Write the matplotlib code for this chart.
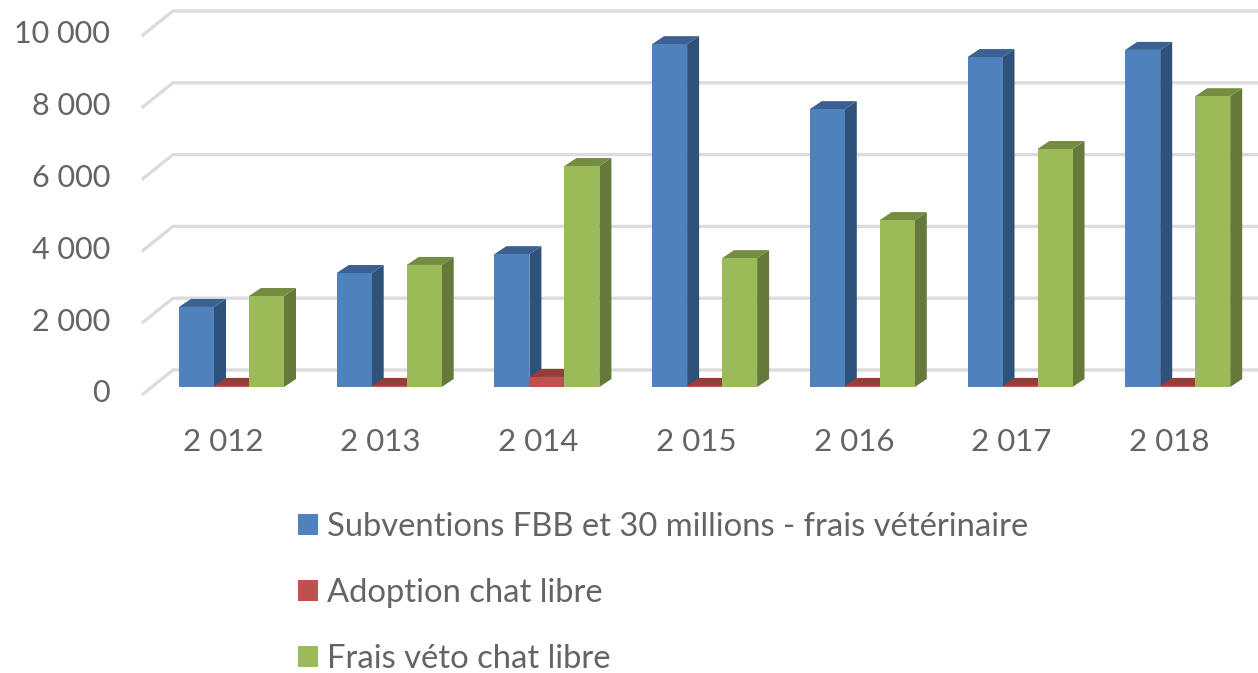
import matplotlib
matplotlib.use("Agg")
import matplotlib.pyplot as plt
from matplotlib.patches import Polygon, Rectangle, Patch

plt.rcParams['font.family'] = ['Lato', 'DejaVu Sans']

years = ['2 012', '2 013', '2 014', '2 015', '2 016', '2 017', '2 018']
ticks = [0, 2000, 4000, 6000, 8000, 10000]
tick_labels = ['0', '2 000', '4 000', '6 000', '8 000', '10 000']
subventions = [2230, 3175, 3700, 9550, 7740, 9190, 9390]
adoption = [30, 30, 280, 30, 30, 30, 30]
frais = [2535, 3400, 6155, 3590, 4650, 6630, 8100]
names = ['Subventions FBB et 30 millions - frais vétérinaire', 'Adoption chat libre', 'Frais véto chat libre']
front = ['#4F81BD', '#C0504D', '#9BBB59']
side = ['#2F527A', '#8A3835', '#657A3A']
top = ['#3A6191', '#963D3A', '#748D43']
TEXT = '#646464'

W, H = 1258, 673
PX_X = 157.7      # pixels per category
PX_Y = 0.0359     # pixels per unit
X0, Y0 = 231.5, 387.0

fig = plt.figure(figsize=(W / 100, H / 100), dpi=100, facecolor='white')
ax = fig.add_axes([0, 0, 1, 1])
ax.set_xlim(-X0 / PX_X, (W - X0) / PX_X)
ax.set_ylim((Y0 - H) / PX_Y, Y0 / PX_Y)
ax.axis('off')

bw = 35 / PX_X
dx = 12 / PX_X
dy = 8 / PX_Y

# walls / gridlines
xa, xk, xe = (143 - X0) / PX_X, (173 - X0) / PX_X, (W - X0) / PX_X
ya, yk = -7 / PX_Y, 17 / PX_Y
for t, lab in zip(ticks, tick_labels):
    ax.plot([xa, xk, xe], [t + ya, t + yk, t + yk], color='#DCDCDC', lw=2.4,
            solid_joinstyle='miter', zorder=1)
    ax.text((110 - X0) / PX_X, t - 6.5 / PX_Y, lab, ha='right', va='center',
            fontsize=22, color=TEXT, zorder=5)

# bars
for s, vals in enumerate([subventions, adoption, frais]):
    for i, v in enumerate(vals):
        x0 = i - 1.5 * bw + s * bw
        x1 = x0 + bw
        z = 2 + i + s * 0.1
        ax.add_patch(Polygon([(x1, 0), (x1 + dx, dy), (x1 + dx, v + dy), (x1, v)],
                             closed=True, fc=side[s], ec='none', zorder=z))
        ax.add_patch(Polygon([(x0, v), (x0 + dx, v + dy), (x1 + dx, v + dy), (x1, v)],
                             closed=True, fc=top[s], ec='none', zorder=z))
        ax.add_patch(Rectangle((x0, 0), bw, v, fc=front[s], ec='none', zorder=z + 0.01))

for i, y in enumerate(years):
    ax.text(i - 8.5 / PX_X, -55 / PX_Y, y, ha='center', va='center', fontsize=22.5, color=TEXT)

handles = [Patch(fc=c, ec='none') for c in front]
leg = ax.legend(handles, names, loc='upper left',
                bbox_to_anchor=(298 / W, 1 - 512 / H), frameon=False,
                fontsize=23.6, labelcolor=TEXT, handlelength=0.6, handleheight=0.6,
                handletextpad=0.28, labelspacing=1.105, borderpad=0, borderaxespad=0)

fig.savefig('out.png', dpi=100, facecolor='white')
